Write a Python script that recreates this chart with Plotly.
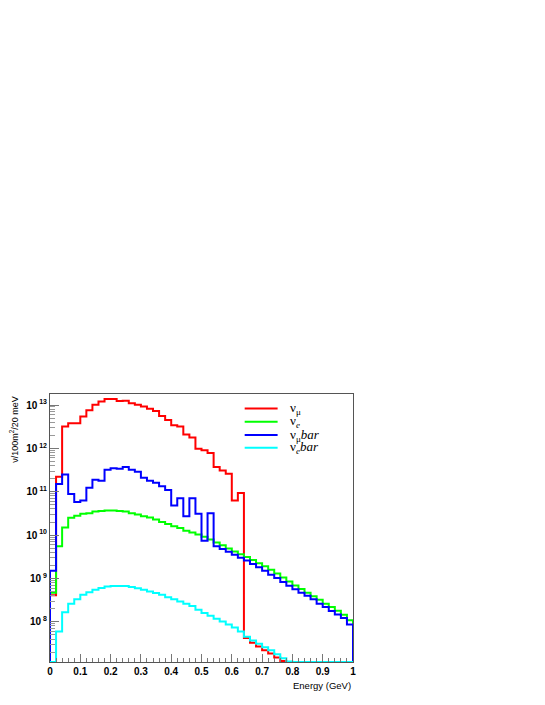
import numpy as np
import plotly.graph_objects as go

# Bin edges: 50 bins of 20 MeV from 0 to 1 GeV
bin_width = 0.02
n_bins = 50

nu_mu = [4.1e8, 2.2e11, 3.2e12, 3.8e12, 3.8e12, 5.4e12, 7.6e12, 1.02e13, 1.2e13, 1.38e13,
         1.38e13, 1.24e13, 1.25e13, 1.1e13, 1.02e13, 9.3e12, 8.2e12, 7.3e12, 5.6e12, 4.5e12,
         3.4e12, 3.2e12, 2.1e12, 1.77e12, 9.8e11, 9.0e11, 7.8e11, 3.7e11, 3.1e11, 2.6e11,
         6.3e10, 9.3e10, 4.2e7, 3.3e7, 2.7e7, 2.2e7, 1.85e7, 1.5e7, 1.25e7, 1.05e7,
         0, 0, 0, 0, 0, 0, 0, 0, 0, 0]

nu_e = [4.7e8, 5.5e9, 1.5e10, 2.5e10, 2.8e10, 3.1e10, 3.2e10, 3.5e10, 3.6e10, 3.7e10,
        3.7e10, 3.6e10, 3.5e10, 3.2e10, 3.0e10, 2.7e10, 2.55e10, 2.3e10, 2.0e10, 1.8e10,
        1.6e10, 1.45e10, 1.26e10, 1.15e10, 1.03e10, 9.1e9, 7.9e9, 6.7e9, 5.8e9, 4.9e9,
        4.2e9, 3.6e9, 3.1e9, 2.65e9, 2.25e9, 1.9e9, 1.58e9, 1.3e9, 1.05e9, 8.5e8,
        6.9e8, 5.7e8, 4.7e8, 3.9e8, 3.2e8, 2.6e8, 2.2e8, 1.8e8, 1.45e8, 1.08e8]

nu_mu_bar = [1.5e9, 1.5e11, 2.5e11, 8.9e10, 5.8e10, 6.3e10, 1.23e11, 1.9e11, 1.8e11, 3.2e11,
             3.5e11, 3.4e11, 3.7e11, 3.2e11, 2.9e11, 2.1e11, 1.8e11, 1.62e11, 1.33e11, 1.1e11,
             4.8e10, 7.1e10, 2.7e10, 7.1e10, 3.1e10, 7.4e9, 3.2e10, 5.5e9, 4.8e9, 4.1e9,
             3.5e9, 3.0e9, 2.6e9, 2.15e9, 1.8e9, 1.5e9, 1.22e9, 1.02e9, 8.3e8, 6.8e8,
             5.6e8, 4.7e8, 4.0e8, 3.3e8, 2.6e8, 2.2e8, 1.78e8, 1.48e8, 1.22e8, 8.7e7]

nu_e_bar = [0, 6.0e7, 1.65e8, 2.6e8, 3.3e8, 4.2e8, 4.8e8, 5.5e8, 6.0e8, 6.5e8,
            6.7e8, 6.7e8, 6.7e8, 6.3e8, 5.9e8, 5.5e8, 5.0e8, 4.6e8, 4.2e8, 3.7e8,
            3.3e8, 2.95e8, 2.6e8, 2.3e8, 1.9e8, 1.6e8, 1.38e8, 1.17e8, 1.02e8, 8.7e7,
            7.4e7, 6.0e7, 4.5e7, 3.7e7, 3.1e7, 2.6e7, 2.2e7, 1.78e7, 1.45e7, 1.22e7,
            0, 0, 0, 0, 0, 0, 0, 0, 0, 0]

series_names = ["ν<sub>μ</sub>", "ν<sub><i>e</i></sub>",
                "ν<sub>μ</sub><i>bar</i>", "ν<sub><i>e</i></sub><i>bar</i>"]
series_colors = ["#ff0000", "#00ff00", "#0000ff", "#00ffff"]

x_tick_vals = [0, 0.1, 0.2, 0.3, 0.4, 0.5, 0.6, 0.7, 0.8, 0.9, 1.0]
x_tick_text = ["0", "0.1", "0.2", "0.3", "0.4", "0.5", "0.6", "0.7", "0.8", "0.9", "1"]
y_tick_exps = [8, 9, 10, 11, 12, 13]
y_tick_text = ["10<sup> %d</sup>" % e for e in y_tick_exps]

y_log_min, y_log_max = 7.072, 13.254
floor_val = 10 ** y_log_min  # empty bins drawn at the bottom edge like ROOT

edges = np.arange(n_bins + 1) * bin_width

fig = go.Figure()
for name, vals, col in zip(series_names, [nu_mu, nu_e, nu_mu_bar, nu_e_bar], series_colors):
    v = np.maximum(np.array(vals, dtype=float), floor_val)
    xs = np.concatenate([[edges[0]], edges[:-1], [edges[-1]], [edges[-1]]])
    ys = np.concatenate([[floor_val], v, [v[-1]], [floor_val]])
    fig.add_trace(go.Scatter(x=xs, y=ys, mode="lines", name=name, showlegend=False,
                             line=dict(color=col, width=2, shape="hv")))

# Manual ROOT-style legend (line sample + label) in the top-right of the frame
legend_x0, legend_x1, legend_text_x = 0.6425, 0.7512, 0.787
legend_y = [0.9462, 0.8965, 0.8468, 0.7994]
shapes = []
annotations = []
for name, col, ly in zip(series_names, series_colors, legend_y):
    shapes.append(dict(type="line", xref="paper", yref="paper",
                       x0=legend_x0, x1=legend_x1, y0=ly, y1=ly,
                       line=dict(color=col, width=2)))
    annotations.append(dict(text=name, xref="paper", yref="paper", x=legend_text_x, y=ly,
                            xanchor="left", yanchor="middle", showarrow=False,
                            font=dict(family="Liberation Serif", size=13, color="black")))

annotations += [
    dict(text="Energy (GeV)", xref="paper", yref="paper", x=1.0, y=-0.087,
         xanchor="right", yanchor="middle", showarrow=False,
         font=dict(family="Liberation Sans", size=9.5, color="black")),
    dict(text="ν/100m<sup>2</sup>/20 meV", xref="paper", yref="paper", x=-0.121, y=1.0,
         xanchor="center", yanchor="top", textangle=-90, showarrow=False,
         font=dict(family="Liberation Sans", size=9, color="black")),
]

minor_y = [k * 10.0 ** d for d in range(7, 14) for k in range(2, 10)]

fig.update_layout(
    width=545, height=705,
    margin=dict(l=42, r=199.5, t=386, b=51.3),
    paper_bgcolor="white", plot_bgcolor="white",
    showlegend=False,
    xaxis=dict(range=[0, 1], showgrid=False, zeroline=False,
               showline=True, linecolor="#555555", linewidth=1, mirror=True,
               ticks="inside", ticklen=8, tickcolor="#777777",
               tickvals=x_tick_vals, ticktext=x_tick_text,
               tickfont=dict(family="Liberation Sans", size=10, color="black", weight="bold"),
               minor=dict(dtick=0.02, tick0=0, ticks="inside", ticklen=4, tickcolor="#777777")),
    yaxis=dict(type="log", range=[y_log_min, y_log_max], showgrid=False, zeroline=False,
               showline=True, linecolor="#555555", linewidth=1, mirror=True,
               ticks="inside", ticklen=9, tickcolor="#777777",
               tickvals=[10.0 ** e for e in y_tick_exps], ticktext=y_tick_text,
               tickfont=dict(family="Liberation Sans", size=10, color="black", weight="bold"),
               minor=dict(tickvals=minor_y, ticks="inside", ticklen=5, tickcolor="#999999")),
    shapes=shapes,
    annotations=annotations,
)

fig.write_html("out.html")
